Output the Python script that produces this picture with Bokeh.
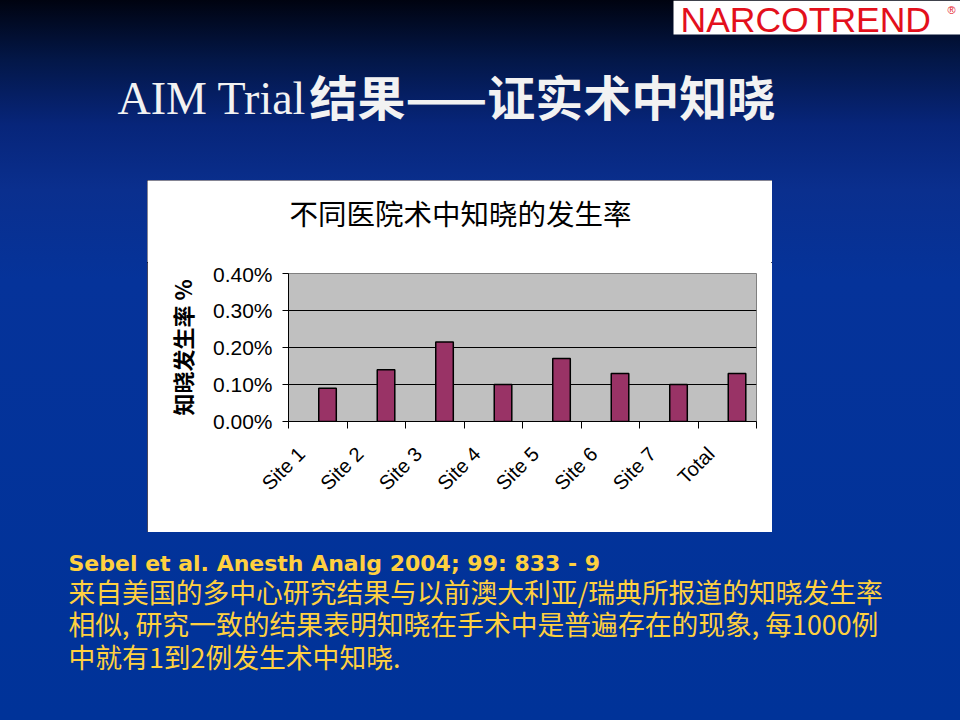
import numpy as np
from bokeh.plotting import figure
from bokeh.models import Range1d, FixedTicker, PrintfTickFormatter, Spacer
from bokeh.layouts import column, row
from bokeh.core.properties import value
from bokeh.embed import file_html
from bokeh.resources import INLINE

# ---------------- data ----------------
categories = ["Site 1", "Site 2", "Site 3", "Site 4", "Site 5", "Site 6", "Site 7", "Total"]
awareness_pct = [0.09, 0.14, 0.215, 0.10, 0.17, 0.13, 0.10, 0.13]
y_ticks = [0.0, 0.1, 0.2, 0.3, 0.4]

slide_title_en = "AIM Trial"
slide_title_zh = "结果——证实术中知晓"
chart_title = "不同医院术中知晓的发生率"
y_label = "知晓发生率 %"
citation = "Sebel et al.  Anesth Analg 2004; 99: 833 - 9"
body_lines = [
    "来自美国的多中心研究结果与以前澳大利亚/瑞典所报道的知晓发生率",
    "相似, 研究一致的结果表明知晓在手术中是普遍存在的现象, 每1000例",
    "中就有1到2例发生术中知晓.",
]
logo_text = "NARCOTREND"

CJK = "Noto Sans CJK SC"
SANS = "Liberation Sans"


def deco_fig(w, h, y_top, y_bottom, fill=None):
    f = figure(width=w, height=h, x_range=Range1d(0, w),
               y_range=Range1d(y_bottom, y_top),
               x_axis_location=None, y_axis_location=None,
               toolbar_location=None, output_backend="svg", min_border=0)
    f.grid.visible = False
    f.outline_line_color = None
    if fill is None:
        f.background_fill_alpha = 0
        f.border_fill_alpha = 0
    else:
        f.background_fill_color = fill
        f.border_fill_color = fill
    return f


# ---------------- top band: logo + slide title ----------------
top = deco_fig(960, 180, 0, 180)
top.quad(left=673, right=960, top=0, bottom=34, fill_color="white", line_color=None)
top.text(x=[680], y=[19], text=[logo_text], text_font=value(SANS),
         text_font_size="35.5px", text_color="#e3101c", text_baseline="alphabetic")
top.text(x=[947], y=[9], text=["®"], text_font=value(SANS),
         text_font_size="11px", text_color="#e3101c", text_baseline="alphabetic")
top.text(x=[117], y=[98], text=[slide_title_en], text_font=value("Liberation Serif"),
         text_font_size="46px", text_color="#f2f2f2", text_baseline="alphabetic")
top.text(x=[309], y=[94], text=[slide_title_zh], text_font=value(CJK),
         text_font_style="bold", text_font_size="48px", text_color="#f2f2f2",
         text_baseline="middle")

# ---------------- chart (white box = title strip + plot) ----------------
head = deco_fig(625, 82, 0, 82, fill="white")
head.text(x=[313], y=[32], text=[chart_title], text_font=value(CJK),
          text_font_size="28.5px", text_color="black",
          text_align="center", text_baseline="middle")

n = len(categories)
bar_x = np.arange(n) + 0.667
label_pos = [round(i + 0.22, 3) for i in range(n)]

c = figure(width=625, height=270, x_range=Range1d(0, n), y_range=Range1d(0, 0.4),
           toolbar_location=None, output_backend="svg",
           min_border_left=141, min_border_right=16, min_border_top=11, min_border_bottom=111)
c.background_fill_color = "#c0c0c0"
c.border_fill_color = "white"
c.outline_line_color = "#808080"

c.vbar(x=bar_x, top=awareness_pct, bottom=0, width=0.3,
       fill_color="#993366", line_color="black", line_width=1.5)

c.xgrid.visible = False
c.ygrid.grid_line_color = "black"
c.ygrid.grid_line_width = 1

xa = c.xaxis[0]
xa.ticker = FixedTicker(ticks=label_pos, minor_ticks=list(range(n + 1)))
xa.major_label_overrides = {p: cat for p, cat in zip(label_pos, categories)}
xa.major_tick_in = 0
xa.major_tick_out = 0
xa.minor_tick_in = 0
xa.minor_tick_out = 7
xa.minor_tick_line_color = "black"
xa.axis_line_color = "black"
xa.major_label_orientation = np.pi / 4
xa.major_label_standoff = 22
xa.major_label_text_font = SANS
xa.major_label_text_font_size = "20px"
xa.major_label_text_color = "black"

ya = c.yaxis[0]
ya.ticker = FixedTicker(ticks=y_ticks)
ya.formatter = PrintfTickFormatter(format="%.2f%%")
ya.major_tick_in = 0
ya.major_tick_out = 6
ya.minor_tick_line_color = None
ya.axis_line_color = "black"
ya.major_tick_line_color = "black"
ya.major_label_standoff = 10
ya.major_label_text_font = SANS
ya.major_label_text_font_size = "21px"
ya.major_label_text_color = "black"
ya.axis_label = y_label
ya.axis_label_text_font = CJK
ya.axis_label_text_font_style = "bold"
ya.axis_label_text_font_size = "22px"
ya.axis_label_text_color = "black"
ya.axis_label_standoff = 12

box = column(row(head), row(c))
box.styles = {"background-color": "white", "outline": "1px solid #0a0a28",
              "outline-offset": "-1px"}

mid = row(Spacer(width=147, height=352), box, Spacer(width=188, height=352))

# ---------------- bottom band: citation + text ----------------
bot = deco_fig(960, 188, 532, 720)
bot.text(x=[68], y=[563], text=[citation], text_font=value("DejaVu Sans"),
         text_font_style="bold", text_font_size="22px", text_color="#ffd040",
         text_baseline="alphabetic")
bot.text(x=[68, 68, 68], y=[590.5, 623, 655.5], text=body_lines, text_font=value(CJK),
         text_font_size="26.8px", text_color="#ffd040", text_baseline="middle")

layout = column(top, mid, bot)

template = """{% block preamble %}<style>
html { height: 100%; background-color: #003399;
  background-image: linear-gradient(to bottom, #000310 0px, #031748 60px, #07257a 125px,
                    #0a2f8e 190px, #05339a 280px, #003399 720px);
  background-repeat: no-repeat; }
body { background: transparent; overflow: hidden; }
</style>{% endblock %}"""

open("out.html", "w").write(file_html(layout, INLINE, title="AIM Trial", template=template))
